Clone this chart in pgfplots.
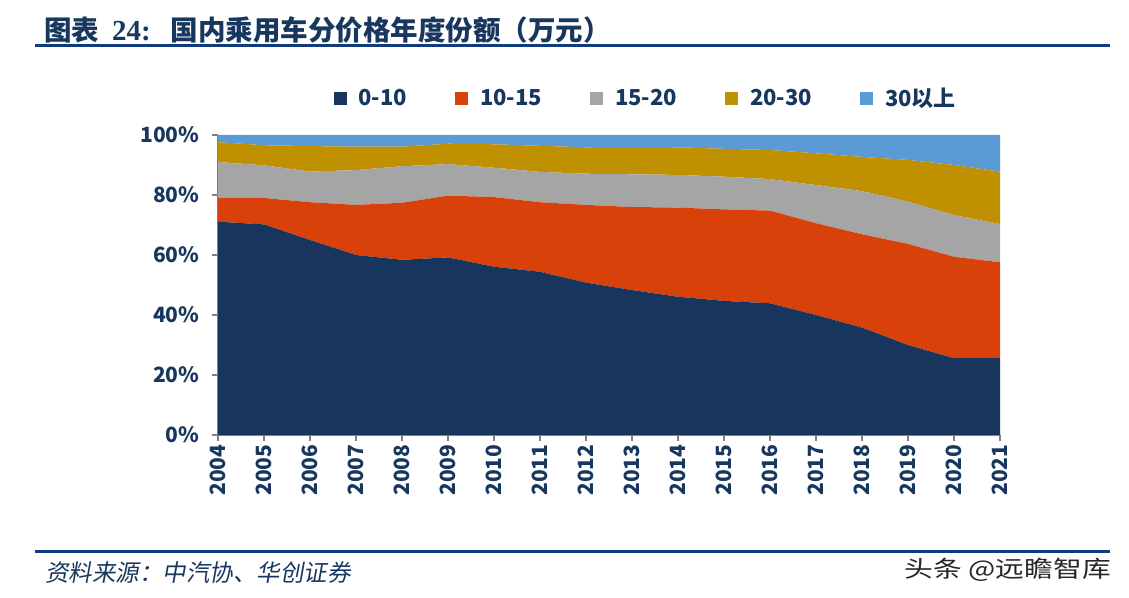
\documentclass[border=0pt]{standalone}
\usepackage{fontspec}
\usepackage{pgfplots}
\pgfplotsset{compat=1.18}
\setmainfont{Noto Sans CJK SC}
\newfontfamily\footfont[FakeSlant=0.18]{Noto Sans CJK SC}
\newfontfamily\numfont{Liberation Serif}

\definecolor{navy}{RGB}{23,55,94}
\definecolor{rule}{RGB}{16,60,124}
\definecolor{cA}{RGB}{24,54,93}
\definecolor{cB}{RGB}{216,65,9}
\definecolor{cC}{RGB}{165,165,165}
\definecolor{cD}{RGB}{191,144,0}
\definecolor{cE}{RGB}{91,155,213}
\definecolor{axgray}{RGB}{128,128,128}

\begin{document}
\begin{tikzpicture}
\path[use as bounding box] (0,0) rectangle (1129pt,597pt);

% title and rules
\node[anchor=west, text=navy, font=\fontsize{27.5}{30}\selectfont\bfseries, inner sep=0pt]
  at (44pt,567pt) {图表\hspace{13pt}{\numfont\fontsize{29}{30}\selectfont 24:}\hspace{20pt}国内乘用车分价格年度份额（万元）};
\draw[rule, line width=3pt] (35pt,551pt) -- (1110pt,551pt);
\draw[rule, line width=3pt] (35pt,46pt) -- (1110pt,46pt);
\node[anchor=west, text=navy, font=\fontsize{23.5}{26}\selectfont\footfont, inner sep=0pt]
  at (45pt,24pt) {资料来源：中汽协、华创证券};
\node[anchor=east, text=black!85, font=\fontsize{23}{26}\selectfont, inner sep=0pt, xscale=1.25]
  at (1111pt,27pt) {头条 @远瞻智库};

\begin{axis}[
  at={(218pt,162pt)}, anchor=south west,
  scale only axis, width=782pt, height=300pt,
  xmin=2004, xmax=2021, ymin=0, ymax=100,
  enlargelimits=false,
  stack plots=y,
  /pgf/number format/assume math mode=true,
  axis x line*=bottom, axis y line*=left,
  axis line style={axgray, line width=1.5pt, -},
  tick align=outside, major tick length=6pt,
  tick style={axgray, line width=1.5pt},
  xtick={2004,...,2021},
  x tick label style={rotate=90, anchor=east, font=\fontsize{21}{24}\selectfont\bfseries, text=navy, /pgf/number format/1000 sep={}},
  ytick={0,20,40,60,80,100},
  yticklabels={0\%,20\%,40\%,60\%,80\%,100\%},
  y tick label style={font=\fontsize{21}{24}\selectfont\bfseries, text=navy, xshift=-9pt},
  legend columns=5,
  legend style={at={(0.547,1.123)}, anchor=center, draw=none, fill=none,
    font=\fontsize{22}{25}\selectfont\bfseries, text=navy,
    /tikz/every odd column/.append style={column sep=10pt},
    /tikz/every even column/.append style={column sep=46pt}},
  legend image code/.code={\fill[#1] (0pt,-6.5pt) rectangle (13pt,6.5pt);},
]
\addplot[fill=cA, draw=none] coordinates {
 (2004,71.1) (2005,70.2) (2006,65.0) (2007,60.0) (2008,58.4) (2009,59.2)
 (2010,56.1) (2011,54.4) (2012,50.8) (2013,48.3) (2014,46.1) (2015,44.7)
 (2016,43.9) (2017,40.0) (2018,35.8) (2019,30.0) (2020,25.6) (2021,25.6)} \closedcycle;
\addplot[fill=cB, draw=none] coordinates {
 (2004,8.0) (2005,8.8) (2006,12.6) (2007,16.7) (2008,19.0) (2009,20.6)
 (2010,23.2) (2011,23.2) (2012,25.9) (2013,27.7) (2014,29.7) (2015,30.5)
 (2016,30.9) (2017,30.6) (2018,31.1) (2019,33.7) (2020,33.8) (2021,32.0)} \closedcycle;
\addplot[fill=cC, draw=none] coordinates {
 (2004,11.9) (2005,10.9) (2006,10.2) (2007,11.6) (2008,12.2) (2009,10.5)
 (2010,9.8) (2011,10.1) (2012,10.4) (2013,10.9) (2014,10.9) (2015,10.9)
 (2016,10.5) (2017,12.7) (2018,14.4) (2019,14.1) (2020,13.9) (2021,12.7)} \closedcycle;
\addplot[fill=cD, draw=none] coordinates {
 (2004,6.6) (2005,6.7) (2006,8.5) (2007,7.8) (2008,6.5) (2009,6.8)
 (2010,7.8) (2011,8.7) (2012,8.8) (2013,9.1) (2014,9.2) (2015,9.3)
 (2016,9.7) (2017,10.6) (2018,11.4) (2019,13.9) (2020,16.7) (2021,17.5)} \closedcycle;
\addplot[fill=cE, draw=none] coordinates {
 (2004,2.4) (2005,3.4) (2006,3.7) (2007,3.9) (2008,3.9) (2009,2.9)
 (2010,3.1) (2011,3.6) (2012,4.1) (2013,4.0) (2014,4.1) (2015,4.6)
 (2016,5.0) (2017,6.1) (2018,7.3) (2019,8.3) (2020,10.0) (2021,12.2)} \closedcycle;
\legend{0-10,10-15,15-20,20-30,30以上}
\end{axis}
\end{tikzpicture}
\end{document}
